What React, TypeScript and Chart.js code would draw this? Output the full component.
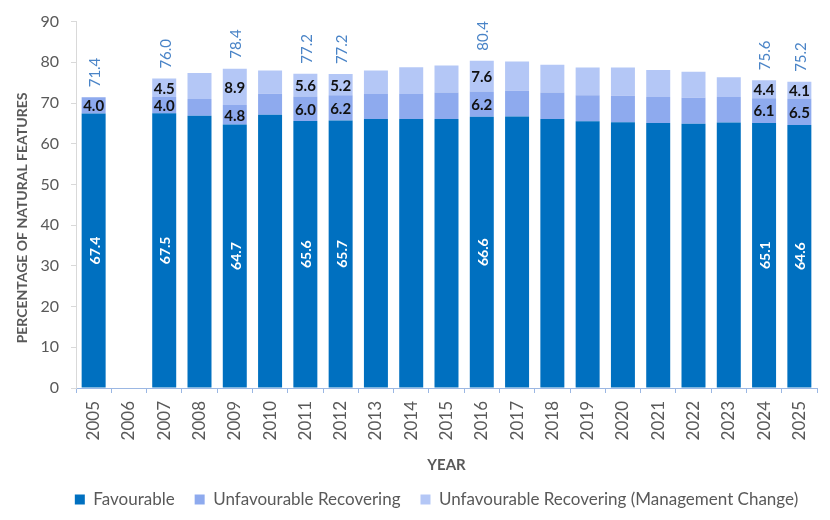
import React, { useEffect, useRef } from "react";
import { Chart, registerables } from "chart.js";

Chart.register(...registerables);

// Survey years
const years = [
  "2005", "2006", "2007", "2008", "2009", "2010", "2011", "2012", "2013", "2014", "2015",
  "2016", "2017", "2018", "2019", "2020", "2021", "2022", "2023", "2024", "2025",
];

// Percentage of natural features in each condition class
const favourable = [
  67.4, null, 67.5, 66.9, 64.7, 67.1, 65.6, 65.7, 66.1, 66.1, 66.1,
  66.6, 66.7, 66.1, 65.5, 65.3, 65.1, 64.9, 65.2, 65.1, 64.6,
];
const unfavRecovering = [
  4.0, null, 4.0, 4.1, 4.8, 5.2, 6.0, 6.2, 6.1, 6.1, 6.5,
  6.2, 6.3, 6.5, 6.4, 6.5, 6.4, 6.4, 6.3, 6.1, 6.5,
];
const unfavRecoveringMgmt = [
  null, null, 4.5, 6.4, 8.9, 5.7, 5.6, 5.2, 5.8, 6.6, 6.6,
  7.6, 7.2, 6.8, 6.8, 6.9, 6.6, 6.4, 4.8, 4.4, 4.1,
];

// Stated totals for the annotated years (null = no annotation)
const totalLabels = [
  71.4, null, 76.0, null, 78.4, null, 77.2, 77.2, null, null, null,
  80.4, null, null, null, null, null, null, null, 75.6, 75.2,
];

const yTicks = [0, 10, 20, 30, 40, 50, 60, 70, 80, 90];

const FONT = "Lato, 'Open Sans', sans-serif";
const GREY = "#595959";
const C_FAV = "#0070c0";
const C_REC = "#8eaaee";
const C_MGMT = "#b4c7f6";
const C_TOTAL = "#4a84c7";

// Centre the legend under the plot area plus its title gutter
const legendShift = {
  id: "legendShift",
  afterLayout(chart: any) {
    const lg = chart.legend;
    if (!lg) return;
    const dx = 28;
    lg.left += dx;
    lg.right += dx;
  },
};

// Draws the value annotations on the annotated bars and the rotated y-axis title
const annotations = {
  id: "annotations",
  afterDatasetsDraw(chart: any) {
    const ctx = chart.ctx as CanvasRenderingContext2D;
    const metas = [0, 1, 2].map((i) => chart.getDatasetMeta(i));
    const series = [favourable, unfavRecovering, unfavRecoveringMgmt];
    ctx.save();
    years.forEach((_, j) => {
      const total = totalLabels[j];
      if (total == null) return;
      let top = Infinity;
      let cx = 0;
      series.forEach((vals, i) => {
        const v = vals[j];
        if (v == null || v === 0) return;
        const el = metas[i].data[j];
        const { x, y, base } = el.getProps(["x", "y", "base"], true);
        cx = x;
        top = Math.min(top, y);
        const cy = (y + base) / 2;
        if (i === 0) {
          ctx.save();
          ctx.translate(x + 1.5, cy);
          ctx.rotate(-Math.PI / 2);
          ctx.font = `bold 14px ${FONT}`;
          ctx.fillStyle = "#ffffff";
          ctx.textAlign = "center";
          ctx.textBaseline = "middle";
          ctx.fillText(v.toFixed(1), 0, 0);
          ctx.restore();
        } else {
          ctx.font = `bold 15px ${FONT}`;
          ctx.fillStyle = "#111111";
          ctx.textAlign = "center";
          ctx.textBaseline = "middle";
          ctx.fillText(v.toFixed(1), x, cy + 1);
        }
      });
      ctx.save();
      ctx.translate(cx + 1.5, top - 10);
      ctx.rotate(-Math.PI / 2);
      ctx.font = `15px ${FONT}`;
      ctx.fillStyle = C_TOTAL;
      ctx.textAlign = "left";
      ctx.textBaseline = "middle";
      ctx.fillText(total.toFixed(1), 0, 0);
      ctx.restore();
    });

    // y-axis title
    ctx.save();
    ctx.translate(22, 218);
    ctx.rotate(-Math.PI / 2);
    ctx.font = `bold 14px ${FONT}`;
    ctx.fillStyle = GREY;
    ctx.textAlign = "center";
    ctx.textBaseline = "middle";
    ctx.fillText("PERCENTAGE OF NATURAL FEATURES", 0, 0);
    ctx.restore();
    ctx.restore();
  },
};

export default function App() {
  const canvasRef = useRef<HTMLCanvasElement | null>(null);

  useEffect(() => {
    if (!canvasRef.current) return;
    Chart.defaults.font.family = FONT;
    const chart = new Chart(canvasRef.current, {
      type: "bar",
      data: {
        labels: years,
        datasets: [
          { label: "Favourable", data: favourable, backgroundColor: C_FAV },
          { label: "Unfavourable Recovering", data: unfavRecovering, backgroundColor: C_REC },
          {
            label: "Unfavourable Recovering (Management Change)",
            data: unfavRecoveringMgmt,
            backgroundColor: C_MGMT,
          },
        ],
      },
      options: {
        responsive: false,
        animation: false,
        layout: { padding: { left: 0, top: 16, right: 13, bottom: 2 } },
        datasets: {
          bar: { categoryPercentage: 1, barPercentage: 0.68, borderWidth: 0 },
        },
        plugins: {
          legend: {
            position: "bottom",
            labels: {
              boxWidth: 10,
              boxHeight: 10,
              padding: 20,
              color: GREY,
              font: { size: 17, family: FONT },
            },
          },
          tooltip: { enabled: false },
        },
        scales: {
          x: {
            stacked: true,
            grid: {
              display: true,
              drawOnChartArea: false,
              drawTicks: true,
              tickLength: 5,
              color: "#9bb7e3",
              offset: true,
            },
            border: { display: true, color: "#9bb7e3" },
            ticks: {
              minRotation: 90,
              maxRotation: 90,
              padding: 8,
              color: GREY,
              font: { size: 17, family: FONT },
            },
            title: {
              display: true,
              text: "YEAR",
              color: GREY,
              font: { size: 15, weight: "bold", family: FONT, lineHeight: 1 },
              padding: { top: 0, bottom: -2 },
            },
            afterFit: (scale: any) => {
              scale.height = 83;
            },
          },
          y: {
            stacked: true,
            min: 0,
            max: 90,
            afterBuildTicks: (scale: any) => {
              scale.ticks = yTicks.map((v) => ({ value: v }));
            },
            grid: {
              display: true,
              drawOnChartArea: false,
              drawTicks: true,
              tickLength: 5,
              color: "#d9d9d9",
            },
            border: { display: true, color: "#d9d9d9" },
            ticks: {
              padding: 12,
              color: GREY,
              font: { size: 16, family: FONT },
            },
            afterFit: (scale: any) => {
              scale.width = 76;
            },
          },
        },
      },
      plugins: [legendShift, annotations],
    });
    return () => chart.destroy();
  }, []);

  return (
    <div style={{ position: "absolute", left: 0, top: 0, width: 830, height: 520, background: "#fff" }}>
      <canvas ref={canvasRef} width={830} height={520} />
    </div>
  );
}
